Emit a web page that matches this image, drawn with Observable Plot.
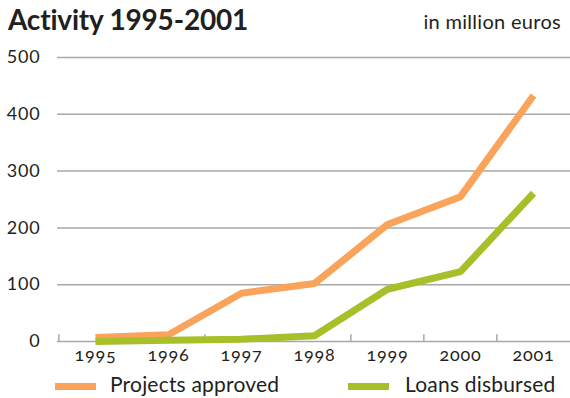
<!DOCTYPE html>
<html><head><meta charset="utf-8">
<script src="https://cdn.jsdelivr.net/npm/d3@7"></script>
<script src="https://cdn.jsdelivr.net/npm/@observablehq/plot@0.6"></script>
<style>
body{margin:0;background:#fff;font-family:Lato,"Open Sans",sans-serif;color:#231f20;}
#wrap{position:relative;width:570px;height:398px;overflow:hidden;}
#title{position:absolute;left:8px;top:2px;font-size:28px;font-weight:bold;letter-spacing:-0.2px;}
#unit{position:absolute;right:9px;top:9px;font-size:20px;letter-spacing:0.3px;}
#chart{position:absolute;left:0;top:40px;}
#legend{position:absolute;left:0;top:371px;width:570px;height:27px;font-size:21px;}
.sw{position:absolute;top:12px;height:7px;width:41px;}
.lb{position:absolute;top:0px;letter-spacing:0.2px;}
</style></head><body>
<div id="wrap">
<div id="title">Activity 1995-2001</div>
<div id="unit">in million euros</div>
<div id="chart"></div>
<div id="legend"></div>
</div>
<script>
const years = ["1995","1996","1997","1998","1999","2000","2001"];
const projectsApproved = [7, 12, 85, 102, 206, 255, 433];
const loansDisbursed = [0, 2, 4, 10, 92, 123, 261];
const yTicks = [0, 100, 200, 300, 400, 500];
const seriesNames = ["Projects approved", "Loans disbursed"];
const seriesColors = ["#f9a35b", "#a7bf28"];

const data = [];
years.forEach((y, i) => {
  data.push({year: y, value: projectsApproved[i], series: seriesNames[0]});
  data.push({year: y, value: loansDisbursed[i], series: seriesNames[1]});
});

const W = 570, H = 330, mL = 57, mR = 0;
const step = (W - mL - mR) / years.length;

const chart = Plot.plot({
  width: W, height: H,
  marginLeft: mL, marginRight: mR, marginTop: 17, marginBottom: 29,
  style: {fontFamily: "Lato, 'Open Sans', sans-serif", fontSize: "18px", color: "#231f20", fontVariantNumeric: "oldstyle-nums", letterSpacing: "0.8px"},
  x: {type: "point", domain: years, padding: 0.5, label: null},
  y: {domain: [0, 500], ticks: yTicks, label: null},
  color: {domain: seriesNames, range: seriesColors},
  marks: [
    Plot.gridY(yTicks, {stroke: "#a8a8a8", strokeOpacity: 1, strokeWidth: 1.5}),
    Plot.ruleX(years, {x: d => d, dx: -step / 2, y1: 0, y2: 12, stroke: "#a8a8a8", strokeWidth: 1.5}),
    Plot.axisY(yTicks, {tickSize: 0, tickPadding: 17, fontSize: 18}),
    Plot.axisX(years, {tickSize: 0, tickPadding: 7, fontSize: 18}),
    Plot.line(data, {x: "year", y: "value", z: "series", stroke: "series", strokeWidth: 7, strokeLinejoin: "miter", strokeLinecap: "butt"})
  ]
});
document.getElementById("chart").appendChild(chart);

const legend = document.getElementById("legend");
const legPos = [[55, 110], [348, 405]];
seriesNames.forEach((n, i) => {
  const sw = document.createElement("div");
  sw.className = "sw"; sw.style.left = legPos[i][0] + "px"; sw.style.background = seriesColors[i];
  legend.appendChild(sw);
  const lb = document.createElement("div");
  lb.className = "lb"; lb.style.left = legPos[i][1] + "px"; lb.textContent = n;
  legend.appendChild(lb);
});
</script>
</body></html>
